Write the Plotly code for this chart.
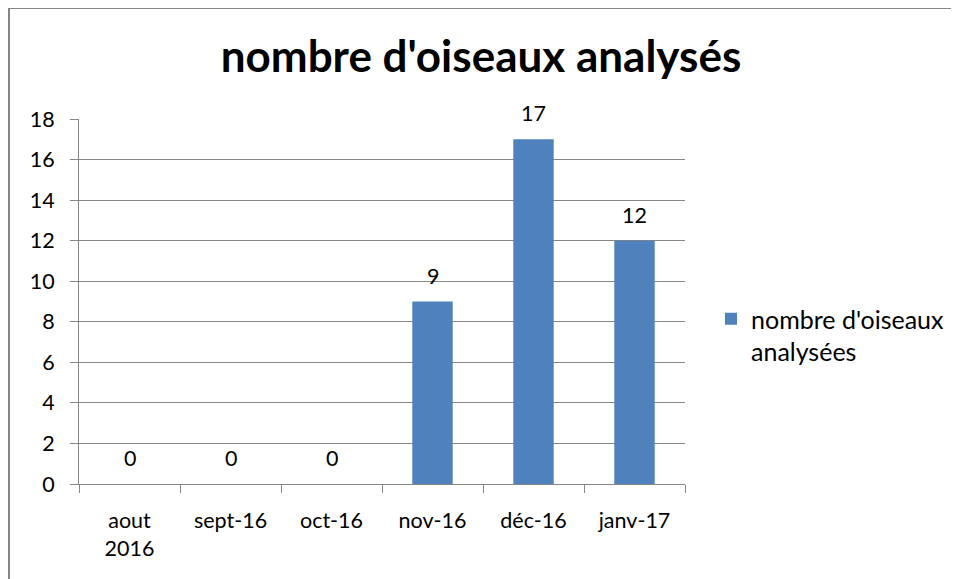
import plotly.graph_objects as go

categories = ["aout<br>2016", "sept-16", "oct-16", "nov-16", "déc-16", "janv-17"]
values = [0, 0, 0, 9, 17, 12]
series_name = "nombre d'oiseaux<br>analysées"
title_text = "nombre d'oiseaux analysés"
y_ticks = list(range(0, 19, 2))

# page body has an 8px margin; work in figure coordinates = reference - 8
OFF = 8
W, H = 959 - OFF, 579 - OFF
L, T = 79 - OFF, 119 - OFF
R = W - (685 - OFF)
B = H - (484 - OFF)
pw, ph = W - L - R, H - T - B

FONT = "Lato, 'Open Sans', sans-serif"
GRAY = "#868686"
FS = 21.5


def px_x(x):
    return (x - OFF - L) / pw


def px_y(y):
    return (H - B - (y - OFF)) / ph


fig = go.Figure()
fig.add_trace(go.Bar(
    x=categories, y=values, name=series_name,
    marker=dict(color="#4F81BD", line=dict(width=0)),
    showlegend=True, hoverinfo="x+y",
))

# data labels, placed from the data through the axes
for c, v in zip(categories, values):
    fig.add_annotation(x=c, y=v, xref="x", yref="y", text=str(v), showarrow=False,
                       yanchor="middle", xanchor="center", yshift=26,
                       font=dict(family=FONT, size=FS, color="#000000"))

fig.update_layout(
    width=W, height=H,
    margin=dict(l=L, r=R, t=T, b=B, pad=0, autoexpand=False),
    paper_bgcolor="white", plot_bgcolor="white",
    bargap=0.6,
    font=dict(family=FONT, color="#000000", size=FS),
    title=dict(text="<b>" + title_text + "</b>", font=dict(family=FONT, size=44, color="#000000"),
               x=(481 - OFF) / W, xanchor="center", xref="container",
               y=1 - (57 - OFF) / H, yanchor="middle", yref="container"),
    showlegend=True,
    legend=dict(x=px_x(711), y=px_y(296), xanchor="left", yanchor="top",
                valign="top", font=dict(family=FONT, size=25, color="#000000"),
                bgcolor="rgba(0,0,0,0)", itemwidth=30, tracegroupgap=0),
    xaxis=dict(type="category", showline=True, linecolor=GRAY, linewidth=1,
               ticks="outside", ticklen=8, tickcolor=GRAY, tickson="boundaries",
               showgrid=False, tickfont=dict(family=FONT, size=FS, color="#000000"),
               ticklabelstandoff=17, range=[-0.5, 5.5], fixedrange=True),
    yaxis=dict(range=[0, 18], tickvals=y_ticks, showline=True, linecolor=GRAY, linewidth=1,
               ticks="outside", ticklen=8, tickcolor=GRAY,
               showgrid=True, gridcolor=GRAY, gridwidth=1, zeroline=False,
               tickfont=dict(family=FONT, size=FS, color="#000000"), ticklabelstandoff=11),
    shapes=[
        dict(type="line", xref="paper", yref="paper", x0=px_x(9), x1=px_x(9),
             y0=px_y(600), y1=px_y(OFF), line=dict(color=GRAY, width=2)),
        dict(type="line", xref="paper", yref="paper", x0=px_x(9), x1=px_x(980),
             y0=px_y(OFF), y1=px_y(OFF), line=dict(color=GRAY, width=2)),
    ],
)

fig.write_html("out.html")
